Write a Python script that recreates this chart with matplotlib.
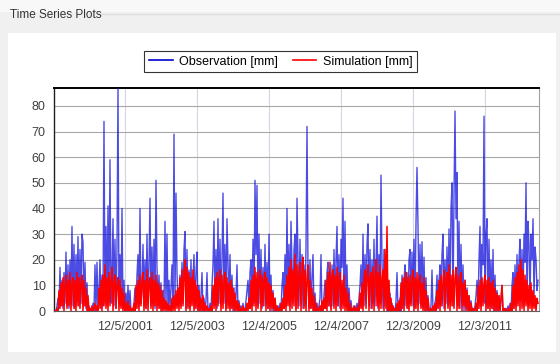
import numpy as np
import pandas as pd
import matplotlib
matplotlib.use("Agg")
import matplotlib.pyplot as plt
from matplotlib.patches import Rectangle
from matplotlib.lines import Line2D

plt.rcParams['font.family'] = ['Liberation Sans Narrow', 'Liberation Sans', 'DejaVu Sans']

# daily series, resampled to roughly one value every ten days
first_day = '1999-12-26'
last_day = '2013-05-24'

obs_mm = [
    0, 0, 2, 5, 1,
    17, 2, 12, 1, 15, 3, 23, 2, 18, 1,
    20, 3, 33, 2, 26, 1, 22, 4, 29, 2,
    24, 3, 30, 27, 2, 19, 1, 11, 0, 2,
    0, 1, 0, 3, 0, 18, 0, 19, 1, 8,
    20, 1, 14, 2, 74, 3, 33, 2, 41, 4,
    59, 3, 13, 36, 2, 28, 1, 24, 87, 3,
    22, 2, 40, 1, 12, 0, 7, 0, 10, 1,
    8, 0, 0, 0, 3, 9, 1, 14, 22, 2,
    40, 3, 8, 26, 2, 20, 1, 30, 3, 18,
    44, 2, 25, 3, 28, 1, 51, 17, 2, 14,
    1, 11, 0, 8, 1, 35, 2, 30, 0, 12,
    1, 9, 18, 2, 69, 3, 46, 15, 2, 6,
    14, 2, 19, 3, 24, 31, 1, 24, 2, 16,
    1, 20, 3, 12, 22, 1, 15, 23, 0, 10,
    0, 6, 15, 0, 5, 0, 4, 15, 0, 0,
    3, 0, 10, 18, 35, 2, 24, 1, 36, 3,
    28, 2, 20, 46, 3, 26, 1, 36, 19, 2,
    22, 1, 14, 0, 9, 0, 6, 18, 0, 4,
    0, 2, 0, 3, 0, 0, 4, 8, 12, 1,
    15, 20, 2, 28, 3, 51, 22, 49, 2, 30,
    3, 24, 1, 17, 2, 26, 3, 19, 1, 30,
    2, 14, 0, 8, 0, 5, 0, 0, 2, 0,
    3, 0, 10, 15, 1, 22, 2, 40, 3, 26,
    2, 35, 18, 3, 24, 30, 1, 44, 20, 2,
    28, 3, 22, 1, 18, 2, 25, 72, 16, 1,
    20, 1, 13, 22, 0, 7, 0, 3, 0, 2,
    5, 22, 0, 0, 6, 12, 1, 15, 19, 2,
    14, 1, 18, 2, 24, 3, 20, 33, 2, 22,
    1, 28, 17, 44, 2, 35, 3, 18, 0, 9,
    2, 4, 0, 1, 0, 2, 0, 3, 0, 5,
    10, 18, 1, 30, 2, 22, 3, 26, 34, 2,
    24, 1, 20, 3, 28, 2, 17, 37, 1, 22,
    3, 53, 19, 1, 24, 2, 14, 0, 11, 1,
    7, 0, 3, 0, 1, 0, 4, 15, 0, 0,
    5, 0, 14, 1, 12, 18, 2, 15, 1, 20,
    24, 3, 23, 2, 28, 1, 35, 56, 33, 3,
    26, 2, 27, 1, 21, 0, 13, 0, 6, 0,
    0, 2, 16, 0, 0, 3, 6, 14, 1, 12,
    18, 2, 22, 30, 1, 20, 3, 25, 2, 32,
    3, 40, 50, 2, 45, 78, 36, 54, 2, 35,
    1, 26, 3, 18, 0, 12, 1, 9, 0, 6,
    0, 4, 0, 1, 0, 2, 6, 12, 1, 20,
    33, 2, 26, 18, 76, 3, 30, 36, 1, 28,
    2, 20, 1, 24, 0, 14, 0, 8, 0, 6,
    0, 4, 10, 0, 0, 1, 0, 0, 2, 0,
    3, 0, 10, 15, 1, 18, 2, 22, 3, 20,
    28, 4, 24, 2, 30, 19, 50, 3, 35, 26,
    4, 30, 20, 36, 5, 25, 20, 8, 12,
]

sim_mm = [
    0, 0, 1, 0, 8,
    1, 11, 2, 13, 0, 10, 14, 1, 12, 2,
    15, 0, 11, 13, 1, 12, 0, 15, 2, 13,
    1, 11, 14, 0, 12, 2, 9, 0, 6, 0,
    1, 0, 2, 0, 1, 3, 0, 2, 0, 9,
    1, 12, 0, 14, 2, 18, 1, 13, 0, 15,
    2, 12, 17, 0, 11, 14, 1, 10, 13, 0,
    12, 1, 9, 0, 7, 0, 3, 0, 4, 0,
    2, 0, 1, 0, 3, 0, 10, 1, 12, 0,
    14, 2, 11, 15, 0, 12, 1, 16, 0, 11,
    13, 1, 15, 0, 12, 2, 14, 0, 11, 1,
    10, 0, 8, 0, 5, 0, 4, 0, 3, 0,
    2, 0, 5, 0, 6, 0, 8, 1, 9, 0,
    13, 1, 16, 2, 14, 20, 0, 17, 1, 15,
    0, 13, 2, 16, 0, 12, 1, 10, 0, 8,
    0, 5, 0, 6, 0, 3, 0, 2, 0, 1,
    0, 2, 0, 10, 1, 13, 0, 15, 2, 12,
    16, 0, 14, 1, 12, 15, 0, 13, 1, 11,
    0, 12, 1, 9, 0, 7, 0, 4, 0, 3,
    0, 1, 0, 2, 0, 1, 0, 3, 0, 5,
    1, 12, 0, 14, 2, 17, 0, 15, 1, 13,
    16, 0, 14, 2, 12, 15, 0, 13, 1, 11,
    0, 10, 1, 7, 0, 5, 0, 2, 0, 1,
    0, 3, 0, 5, 1, 10, 0, 14, 2, 17,
    0, 20, 1, 16, 2, 22, 0, 18, 1, 15,
    19, 0, 14, 21, 1, 16, 0, 13, 18, 0,
    12, 1, 9, 0, 6, 0, 3, 0, 1, 0,
    2, 0, 4, 0, 5, 1, 12, 0, 15, 2,
    19, 0, 13, 16, 1, 14, 0, 17, 2, 13,
    15, 0, 12, 1, 14, 0, 9, 0, 7, 0,
    3, 0, 1, 0, 2, 0, 1, 0, 2, 0,
    7, 1, 11, 0, 13, 16, 1, 14, 18, 0,
    13, 15, 1, 17, 0, 14, 20, 2, 15, 0,
    18, 1, 13, 16, 0, 24, 1, 33, 0, 12,
    0, 5, 0, 2, 0, 1, 0, 3, 0, 4,
    0, 11, 1, 13, 0, 12, 15, 1, 13, 0,
    14, 2, 12, 16, 0, 13, 1, 15, 0, 12,
    14, 1, 11, 0, 13, 0, 8, 0, 5, 0,
    0, 1, 0, 2, 0, 3, 0, 8, 1, 12,
    0, 14, 2, 12, 16, 0, 13, 15, 1, 18,
    0, 14, 2, 16, 1, 13, 17, 0, 14, 1,
    12, 15, 0, 11, 2, 12, 0, 8, 0, 6,
    0, 3, 0, 1, 0, 0, 3, 0, 10, 1,
    12, 0, 13, 2, 11, 14, 0, 12, 1, 13,
    0, 11, 1, 12, 0, 9, 0, 7, 0, 6,
    0, 5, 10, 0, 1, 0, 1, 0, 0, 1,
    0, 3, 0, 10, 1, 13, 0, 15, 2, 18,
    0, 20, 1, 16, 0, 14, 2, 12, 0, 10,
    1, 11, 0, 8, 1, 6, 0, 5, 3,
]

tick_dates = ['2001-12-05', '2003-12-05', '2005-12-04',
              '2007-12-04', '2009-12-03', '2011-12-03']
tick_labels = ['12/5/2001', '12/5/2003', '12/4/2005',
               '12/4/2007', '12/3/2009', '12/3/2011']
y_ticks = [0, 10, 20, 30, 40, 50, 60, 70, 80]

obs_t = pd.date_range(first_day, last_day, periods=len(obs_mm))
sim_t = pd.date_range(first_day, last_day, periods=len(sim_mm))

W, H = 560, 364
fig = plt.figure(figsize=(W / 100, H / 100), dpi=100, facecolor='#f0f0f0')


def fx(x):
    return x / W


def fy(y):
    return 1 - y / H


# group box: title strip, border line and white panel (kept behind the axes)
fig.add_artist(Rectangle((0, fy(12)), 1, 12 / H, transform=fig.transFigure,
                         facecolor='#f8f8f8', edgecolor='none', zorder=-10))
fig.add_artist(Line2D([fx(100), 1], [fy(14), fy(14)], transform=fig.transFigure,
                      color='#dcdcdc', lw=1, zorder=-9))
fig.add_artist(Rectangle((fx(8), fy(352)), (556 - 8) / W, (352 - 33) / H,
                         transform=fig.transFigure, facecolor='white',
                         edgecolor='none', zorder=-10))
fig.text(fx(10), fy(15), 'Time Series Plots', fontsize=8.5, color='#333333',
         va='center', ha='left')

ax = fig.add_axes([fx(54), fy(311), (539 - 54) / W, (311 - 88) / H])
ax.set_facecolor('white')

ax.plot(obs_t, obs_mm, color='#1010dd', lw=1.0, alpha=0.75,
        label='Observation [mm]', zorder=3)
ax.plot(sim_t, sim_mm, color='#ff0000', lw=1.1, label='Simulation [mm]',
        zorder=4)

ax.set_xlim(pd.Timestamp('1999-12-16'), pd.Timestamp('2013-06-03'))
ax.set_ylim(0, 87)

ax.set_yticks(y_ticks)
ax.set_xticks(pd.to_datetime(tick_dates))
ax.set_xticklabels(tick_labels)
ax.tick_params(axis='both', labelsize=9, colors='#404040', length=0)
ax.tick_params(axis='y', pad=6)
ax.tick_params(axis='x', pad=7)

ax.grid(axis='y', color='#a8a8a8', lw=0.8, zorder=1)
ax.grid(axis='x', color='#d4d4e4', lw=0.8, zorder=1)
ax.set_axisbelow(True)

ax.spines['top'].set_color('black')
ax.spines['top'].set_linewidth(1.4)
ax.spines['left'].set_color('#202020')
ax.spines['left'].set_linewidth(1.0)
ax.spines['right'].set_color('#a0a0a0')
ax.spines['bottom'].set_color('#606060')

handles, labels = ax.get_legend_handles_labels()
handles = [Line2D([], [], color='#0000cc', lw=1.2),
           Line2D([], [], color='#ff0000', lw=1.2)]
leg = fig.legend(handles, labels, loc='center', bbox_to_anchor=(fx(280.5), fy(61.5)),
                 ncol=2, fontsize=9, frameon=True, fancybox=False,
                 edgecolor='black', handlelength=1.9, columnspacing=1.2,
                 handletextpad=0.5, borderpad=0.35)
leg.get_frame().set_linewidth(0.8)

fig.savefig('out.png', dpi=100, facecolor=fig.get_facecolor())
